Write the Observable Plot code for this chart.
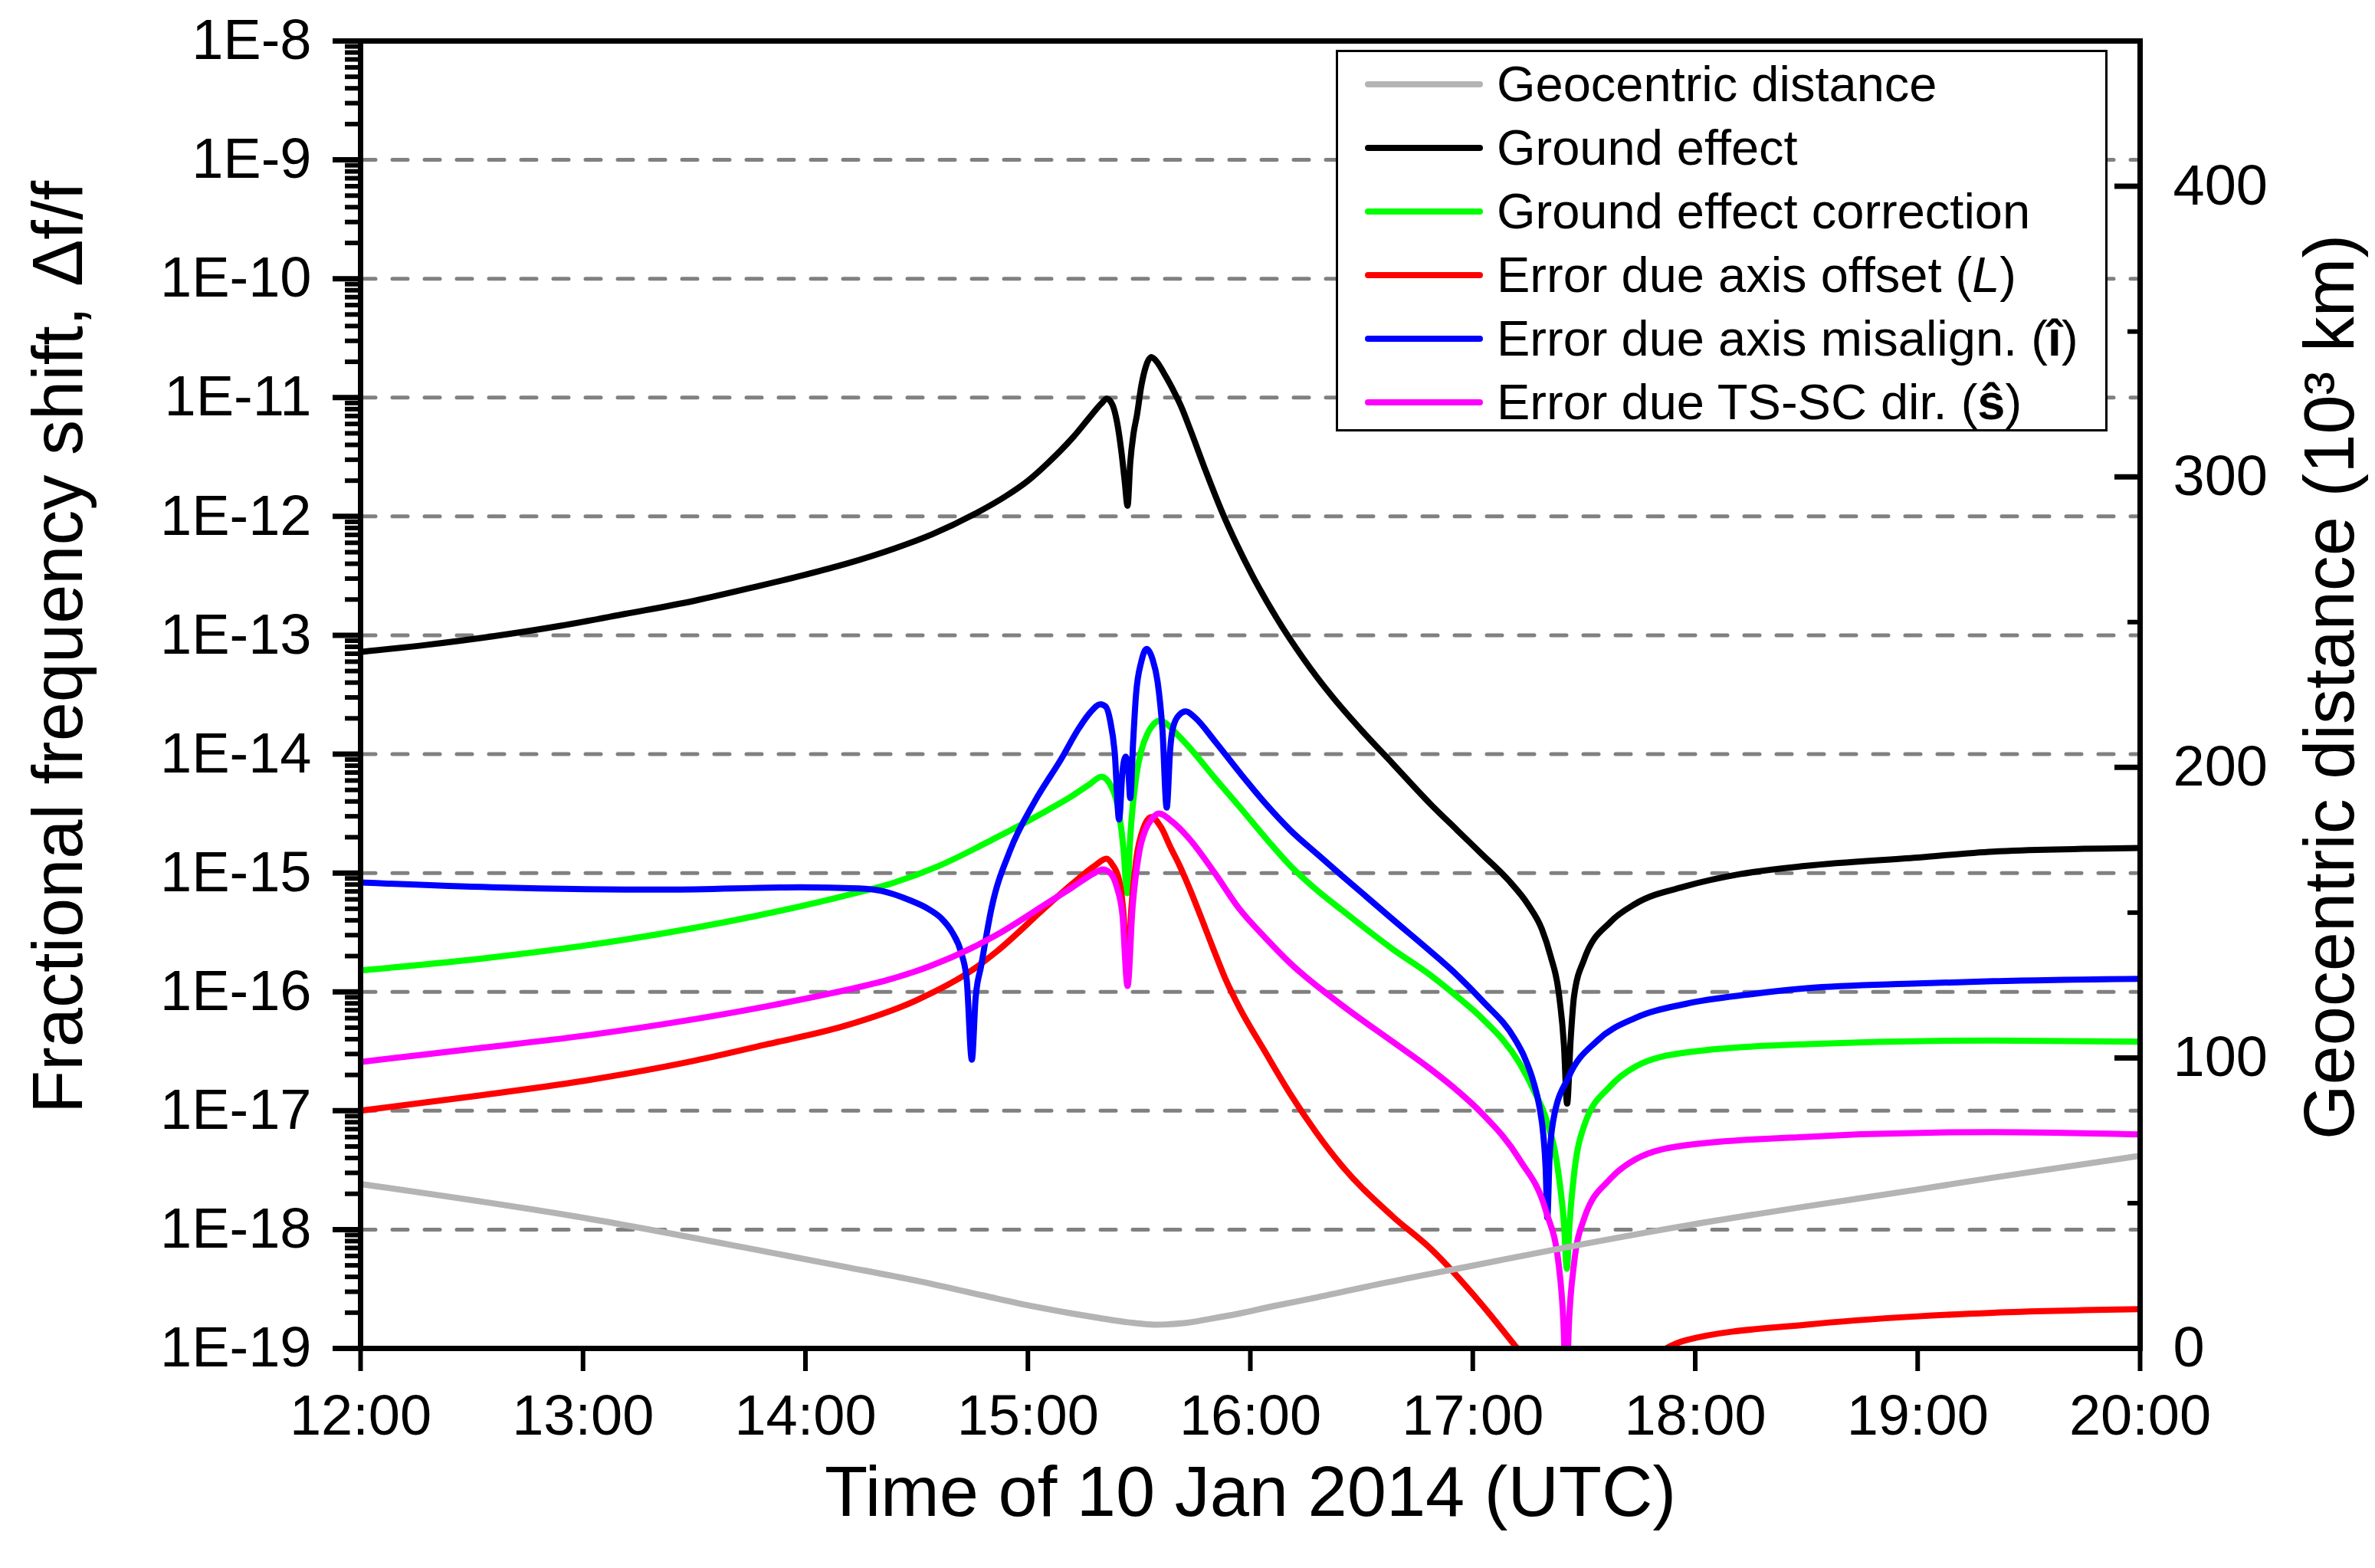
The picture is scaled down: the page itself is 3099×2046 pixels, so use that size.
<!DOCTYPE html>
<html>
<head>
<meta charset="utf-8">
<script src="https://cdn.jsdelivr.net/npm/d3@7"></script>
<script src="https://cdn.jsdelivr.net/npm/@observablehq/plot@0.6"></script>
<style>
  html, body { margin: 0; padding: 0; background: #fff; }
  #wrap { position: relative; width: 3099px; height: 2046px; font-family: "Liberation Sans", Arial, sans-serif; }
  #legend { position: absolute; left: 1743px; top: 65px; width: 1001px; height: 492px; border: 3px solid #000; background: #fff; box-sizing: content-box; }
  .row { position: absolute; left: 0; height: 83px; display: flex; align-items: center; font-size: 65px; color: #000; white-space: nowrap; }
  .sw { position: absolute; left: 35px; width: 154px; height: 8px; border-radius: 4px; }
  .lt { position: absolute; left: 207px; line-height: 83px; }
</style>
</head>
<body>
<div id="wrap"></div>
<script>
// ---------------- data ----------------
// time in decimal hours UTC, value as log10 of the fractional frequency shift
const groundEffect = [[12.00,-13.14],[12.30,-13.08],[12.59,-13.01],[12.90,-12.92],[13.19,-12.82],[13.50,-12.71],[13.78,-12.59],[14.00,-12.49],[14.18,-12.40],[14.40,-12.27],[14.57,-12.15],[14.77,-11.97],[14.90,-11.83],[15.00,-11.70],[15.09,-11.55],[15.20,-11.34],[15.28,-11.16],[15.33,-11.05],[15.355,-11.01],[15.38,-11.06],[15.40,-11.20],[15.42,-11.45],[15.435,-11.70],[15.448,-11.91],[15.46,-11.55],[15.475,-11.30],[15.49,-11.15],[15.51,-10.90],[15.53,-10.74],[15.555,-10.66],[15.58,-10.70],[15.61,-10.79],[15.64,-10.89],[15.69,-11.08],[15.73,-11.27],[15.80,-11.62],[15.87,-11.95],[15.94,-12.24],[16.01,-12.50],[16.12,-12.86],[16.24,-13.20],[16.37,-13.52],[16.50,-13.80],[16.64,-14.08],[16.81,-14.42],[16.93,-14.64],[17.04,-14.84],[17.16,-15.06],[17.25,-15.27],[17.31,-15.47],[17.35,-15.70],[17.386,-16.00],[17.41,-16.45],[17.424,-16.94],[17.44,-16.40],[17.455,-16.04],[17.50,-15.73],[17.62,-15.41],[17.73,-15.26],[17.96,-15.11],[18.20,-15.01],[18.50,-14.94],[19.00,-14.87],[19.34,-14.82],[20.00,-14.79]];
const groundCorrection = [[12.00,-15.82],[12.59,-15.71],[13.19,-15.56],[13.78,-15.36],[14.18,-15.19],[14.40,-15.08],[14.60,-14.94],[14.86,-14.70],[15.09,-14.47],[15.20,-14.35],[15.28,-14.25],[15.33,-14.19],[15.377,-14.28],[15.41,-14.50],[15.43,-14.80],[15.446,-15.17],[15.46,-14.70],[15.49,-14.15],[15.51,-13.97],[15.537,-13.83],[15.56,-13.76],[15.59,-13.72],[15.62,-13.74],[15.664,-13.82],[15.72,-13.93],[15.84,-14.20],[15.95,-14.44],[16.08,-14.73],[16.18,-14.94],[16.29,-15.13],[16.41,-15.31],[16.64,-15.64],[16.81,-15.86],[16.93,-16.04],[17.04,-16.22],[17.21,-16.60],[17.28,-16.85],[17.33,-17.07],[17.386,-17.54],[17.41,-17.95],[17.423,-18.33],[17.435,-17.95],[17.455,-17.54],[17.50,-17.13],[17.62,-16.79],[17.73,-16.63],[17.96,-16.51],[18.50,-16.44],[19.34,-16.41],[20.00,-16.42]];
const axisOffsetErr = [[12.00,-17.00],[12.50,-16.88],[13.00,-16.75],[13.50,-16.58],[13.83,-16.44],[14.17,-16.29],[14.50,-16.07],[14.77,-15.79],[14.86,-15.66],[15.09,-15.27],[15.20,-15.09],[15.30,-14.94],[15.353,-14.88],[15.38,-14.93],[15.41,-15.06],[15.43,-15.35],[15.447,-15.90],[15.465,-15.30],[15.486,-14.90],[15.52,-14.62],[15.555,-14.53],[15.60,-14.62],[15.64,-14.78],[15.68,-14.93],[15.72,-15.10],[15.78,-15.38],[15.836,-15.65],[15.89,-15.90],[15.95,-16.13],[16.065,-16.50],[16.18,-16.86],[16.295,-17.18],[16.41,-17.46],[16.64,-17.89],[16.81,-18.16],[17.04,-18.63],[17.20,-19.00],[17.35,-19.35],[17.50,-19.50],[17.70,-19.30],[17.87,-19.00],[17.96,-18.93],[18.50,-18.80],[19.00,-18.73],[19.34,-18.70],[20.00,-18.67]];
const misalignErr = [[12.00,-15.08],[12.59,-15.12],[13.38,-15.14],[13.98,-15.12],[14.24,-15.13],[14.34,-15.15],[14.47,-15.23],[14.55,-15.30],[14.61,-15.38],[14.66,-15.50],[14.70,-15.67],[14.725,-15.90],[14.748,-16.57],[14.765,-16.05],[14.79,-15.78],[14.836,-15.30],[14.92,-14.81],[15.03,-14.40],[15.15,-14.04],[15.23,-13.78],[15.28,-13.65],[15.325,-13.58],[15.35,-13.60],[15.37,-13.72],[15.39,-13.98],[15.41,-14.55],[15.425,-14.15],[15.44,-14.02],[15.452,-14.15],[15.46,-14.37],[15.473,-13.90],[15.486,-13.50],[15.51,-13.22],[15.534,-13.115],[15.56,-13.20],[15.583,-13.39],[15.605,-13.80],[15.624,-14.45],[15.64,-13.95],[15.652,-13.78],[15.68,-13.67],[15.71,-13.64],[15.75,-13.69],[15.84,-13.89],[15.95,-14.15],[16.07,-14.42],[16.18,-14.64],[16.30,-14.84],[16.41,-15.02],[16.64,-15.39],[16.81,-15.66],[16.93,-15.86],[17.04,-16.07],[17.19,-16.40],[17.23,-16.54],[17.27,-16.74],[17.30,-16.97],[17.317,-17.20],[17.328,-17.50],[17.335,-17.90],[17.345,-17.40],[17.363,-17.07],[17.43,-16.72],[17.56,-16.41],[17.73,-16.22],[17.96,-16.10],[18.25,-16.02],[18.50,-15.97],[19.00,-15.93],[19.34,-15.91],[20.00,-15.89]];
const tsscDirErr = [[12.00,-16.59],[12.50,-16.48],[13.00,-16.37],[13.50,-16.23],[13.83,-16.12],[14.17,-15.99],[14.37,-15.90],[14.55,-15.79],[14.77,-15.61],[14.86,-15.52],[15.09,-15.25],[15.20,-15.12],[15.30,-15.00],[15.336,-14.97],[15.37,-15.00],[15.40,-15.12],[15.425,-15.35],[15.448,-15.95],[15.47,-15.30],[15.50,-14.83],[15.53,-14.63],[15.555,-14.55],[15.59,-14.50],[15.65,-14.57],[15.72,-14.70],[15.84,-15.00],[15.95,-15.30],[16.07,-15.55],[16.18,-15.76],[16.41,-16.11],[16.64,-16.42],[16.81,-16.65],[16.93,-16.83],[17.04,-17.02],[17.21,-17.41],[17.33,-17.85],[17.386,-18.29],[17.408,-18.80],[17.42,-19.40],[17.432,-18.80],[17.455,-18.29],[17.50,-17.91],[17.62,-17.57],[17.73,-17.41],[17.96,-17.29],[18.50,-17.22],[19.34,-17.18],[20.00,-17.20]];
// geocentric distance, 10^3 km (right axis)
const geoDistance = [[12.00,56.6],[13.00,45.0],[13.83,33.2],[14.17,28.2],[14.50,23.3],[14.80,18.2],[15.03,14.4],[15.20,12.0],[15.32,10.5],[15.45,9.0],[15.57,8.2],[15.70,8.7],[15.82,10.2],[15.95,12.0],[16.10,14.5],[16.27,17.1],[16.58,22.2],[17.00,28.5],[17.42,34.8],[17.96,42.3],[18.50,48.9],[19.00,54.7],[19.34,58.8],[20.00,66.3]];

const hourTicks = [12,13,14,15,16,17,18,19,20];
const decadeExponents = [-19,-18,-17,-16,-15,-14,-13,-12,-11,-10,-9,-8];
const gridExponents = [-18,-17,-16,-15,-14,-13,-12,-11,-10,-9];
const minorMultipliers = [2,3,4,5,6,7,8,9];
const distMajorTicks = [0,100,200,300,400];
const distMinorTicks = [50,150,250,350];
const distDomain = [0, 450];
const yDomainExp = [-19, -8];

const seriesNames = ["Geocentric distance","Ground effect","Ground effect correction","Error due axis offset (<i>L</i>)","Error due axis misalign. (<b>i&#x302;</b>)","Error due TS-SC dir. (<b>&#x15D;</b>)"];
const seriesColors = ["#b4b4b4","#000000","#00ff00","#ff0000","#0000ff","#ff00ff"];

// ---------------- helpers ----------------
const span = yDomainExp[1] - yDomainExp[0];
const distToY = d => 10 ** (yDomainExp[0] + (d - distDomain[0]) * span / (distDomain[1] - distDomain[0]));
const yToDist = v => Math.round((Math.log10(v) - yDomainExp[0]) * (distDomain[1] - distDomain[0]) / span + distDomain[0]);
const decades = decadeExponents.map(e => 10 ** e);
const gridVals = gridExponents.map(e => 10 ** e);
const minorVals = decadeExponents.slice(0, -1).flatMap(e => minorMultipliers.map(m => m * 10 ** e));

const fx = d => d[0];
const fy = d => 10 ** d[1];
const lineOpts = (color) => ({x: fx, y: fy, stroke: color, strokeWidth: 8, curve: "monotone-x", clip: true, strokeLinejoin: "round"});

const FONT = '"Liberation Sans", Arial, sans-serif';

const chart = Plot.plot({
  width: 3099,
  height: 2046,
  marginLeft: 470,
  marginRight: 307,
  marginTop: 53,
  marginBottom: 287,
  x: {domain: [12, 20], axis: null},
  y: {type: "log", domain: [10 ** yDomainExp[0], 10 ** yDomainExp[1]], axis: null},
  style: {fontFamily: FONT, fontSize: "74px", color: "black", background: "white", overflow: "visible"},
  marks: [
    Plot.ruleY(gridVals, {stroke: "#808080", strokeWidth: 5, strokeDasharray: "20,22", strokeLinecap: "round"}),
    Plot.line(groundEffect, lineOpts(seriesColors[1])),
    Plot.line(groundCorrection, lineOpts(seriesColors[2])),
    Plot.line(axisOffsetErr, lineOpts(seriesColors[3])),
    Plot.line(misalignErr, lineOpts(seriesColors[4])),
    Plot.line(tsscDirErr, lineOpts(seriesColors[5])),
    Plot.line(geoDistance, {x: fx, y: d => distToY(d[1]), stroke: seriesColors[0], strokeWidth: 8, curve: "monotone-x", clip: true}),
    // left axis
    Plot.axisY(decades, {anchor: "left", tickSize: 36, tickPadding: 28, strokeWidth: 7, fontSize: 74, label: null,
      tickFormat: v => "1E" + Math.round(Math.log10(v))}),
    Plot.axisY(minorVals, {anchor: "left", tickSize: 20, strokeWidth: 6, fill: "none", label: null}),
    // right axis (geocentric distance)
    Plot.axisY(distMajorTicks.map(distToY), {anchor: "right", tickSize: -34, strokeWidth: 7, fill: "none", label: null}),
    Plot.axisY(distMinorTicks.map(distToY), {anchor: "right", tickSize: -17, strokeWidth: 6, fill: "none", label: null}),
    Plot.axisY(distMajorTicks.map(distToY), {anchor: "right", tickSize: 0, tickPadding: 43, fontSize: 74, label: null, textAnchor: "start",
      tickFormat: yToDist}),
    // bottom axis
    Plot.axisX(hourTicks, {anchor: "bottom", tickSize: 30, tickPadding: 30, strokeWidth: 6, fontSize: 74, label: null,
      tickFormat: h => `${h}:00`}),
    Plot.frame({stroke: "black", strokeWidth: 7}),
    // axis titles
    Plot.text(["Fractional frequency shift, \u0394f/f"], {frameAnchor: "left", dx: -393, dy: -62, rotate: -90, fontSize: 92, textAnchor: "middle"}),
    Plot.text(["Geocentric distance (10\u00B3 km)"], {frameAnchor: "right", dx: 249, dy: -10, rotate: -90, fontSize: 92, textAnchor: "middle"}),
    Plot.text(["Time of 10 Jan 2014 (UTC)"], {frameAnchor: "bottom", dy: 218, fontSize: 92, textAnchor: "middle"})
  ]
});

const wrap = document.getElementById("wrap");
wrap.appendChild(chart);

// legend (inside the plot, upper right)
const legend = document.createElement("div");
legend.id = "legend";
seriesNames.forEach((name, i) => {
  const row = document.createElement("div");
  row.className = "row";
  row.style.top = (i * 83) + "px";
  row.style.width = "100%";
  const sw = document.createElement("div");
  sw.className = "sw";
  sw.style.background = seriesColors[i];
  const lt = document.createElement("div");
  lt.className = "lt";
  lt.innerHTML = name;
  row.appendChild(sw);
  row.appendChild(lt);
  legend.appendChild(row);
});
wrap.appendChild(legend);
</script>
</body>
</html>
